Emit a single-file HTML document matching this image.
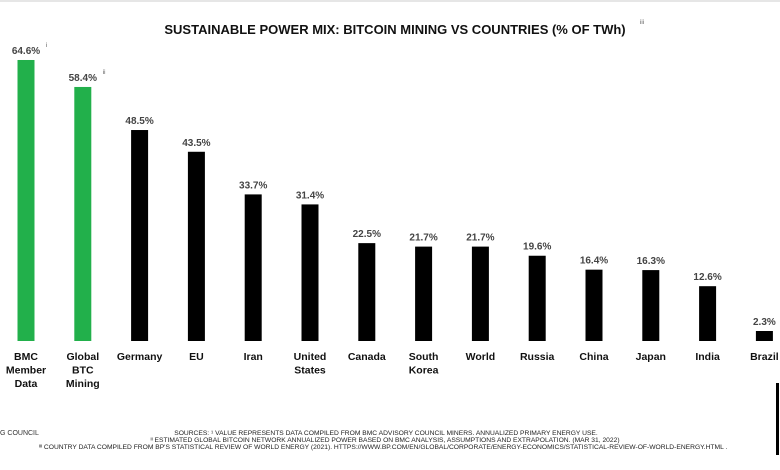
<!DOCTYPE html>
<html><head><meta charset="utf-8"><style>
body{margin:0;width:780px;height:470px;background:#fff;overflow:hidden;position:relative;font-family:"Liberation Sans",sans-serif}
svg{position:absolute;left:0;top:0}
</style></head><body>
<svg width="780" height="470">
<line x1="0" y1="1" x2="780" y2="1" stroke="#e6e6e6" stroke-width="2"/>
<text x="395" y="34" text-anchor="middle" font-size="13" font-weight="bold" fill="#111">SUSTAINABLE POWER MIX: BITCOIN MINING VS COUNTRIES (% OF TWh)</text>
<text x="640" y="24" font-size="6" fill="#555">iii</text>
<g id="bars"></g>
<g id="labels"></g>
<text x="0" y="435" font-size="7" fill="#333">G COUNCIL</text>
<g font-size="6.7" fill="#222" text-anchor="middle">
<text x="386" y="435">SOURCES: ¹ VALUE REPRESENTS DATA COMPILED FROM BMC ADVISORY COUNCIL MINERS. ANNUALIZED PRIMARY ENERGY USE.</text>
<text x="385" y="442">ᴵᴵ ESTIMATED GLOBAL BITCOIN NETWORK ANNUALIZED POWER BASED ON BMC ANALYSIS, ASSUMPTIONS AND EXTRAPOLATION. (MAR 31, 2022)</text>
<text x="383" y="449">ᴵᴵᴵ COUNTRY DATA COMPILED FROM BP'S STATISTICAL REVIEW OF WORLD ENERGY (2021). HTTPS://WWW.BP.COM/EN/GLOBAL/CORPORATE/ENERGY-ECONOMICS/STATISTICAL-REVIEW-OF-WORLD-ENERGY.HTML .</text>
</g>
<rect x="776" y="383" width="3" height="72" fill="#000"/>
</svg>
<script>
const categories=[["BMC","Member","Data"],["Global","BTC","Mining"],["Germany"],["EU"],["Iran"],["United","States"],["Canada"],["South","Korea"],["World"],["Russia"],["China"],["Japan"],["India"],["Brazil"]];
const values=[64.6,58.4,48.5,43.5,33.7,31.4,22.5,21.7,21.7,19.6,16.4,16.3,12.6,2.3];
const valueLabels=["64.6%","58.4%","48.5%","43.5%","33.7%","31.4%","22.5%","21.7%","21.7%","19.6%","16.4%","16.3%","12.6%","2.3%"];
const footMarks=["i","ii","","","","","","","","","","","",""];
const base=341, pxPer=4.35, x0=26, step=56.8, bw=17;
const yScale=v=>base-v*pxPer;
const xScale=i=>x0+i*step;
const NS="http://www.w3.org/2000/svg";
const gb=document.getElementById('bars'), gl=document.getElementById('labels');
values.forEach((v,i)=>{
 const cx=xScale(i);
 const r=document.createElementNS(NS,'rect');
 r.setAttribute('x',cx-bw/2);r.setAttribute('y',yScale(v));r.setAttribute('width',bw);r.setAttribute('height',base-yScale(v));
 r.setAttribute('fill',i<2?'#22b04b':'#000');
 
 
 gb.appendChild(r);
 const t=document.createElementNS(NS,'text');
 t.setAttribute('x',cx);t.setAttribute('y',yScale(v)-6);t.setAttribute('text-anchor','middle');
 t.setAttribute('font-size','10');t.setAttribute('font-weight','bold');t.setAttribute('fill','#444');
 t.textContent=valueLabels[i];
 
 
 gl.appendChild(t);
 if(footMarks[i]){
  const f=document.createElementNS(NS,'text');
  f.setAttribute('x',cx+20);f.setAttribute('y',yScale(v)-13);f.setAttribute('font-size','6');f.setAttribute('fill','#555');
  f.textContent=footMarks[i];
  
  
  gl.appendChild(f);
 }
 categories[i].forEach((line,k)=>{
  const c=document.createElementNS(NS,'text');
  c.setAttribute('x',cx);c.setAttribute('y',360+k*13.5);c.setAttribute('text-anchor','middle');
  c.setAttribute('font-size','10.5');c.setAttribute('font-weight','bold');c.setAttribute('fill','#111');
  c.textContent=line;
  
  
  gl.appendChild(c);
 });
});
</script>
</body></html>
